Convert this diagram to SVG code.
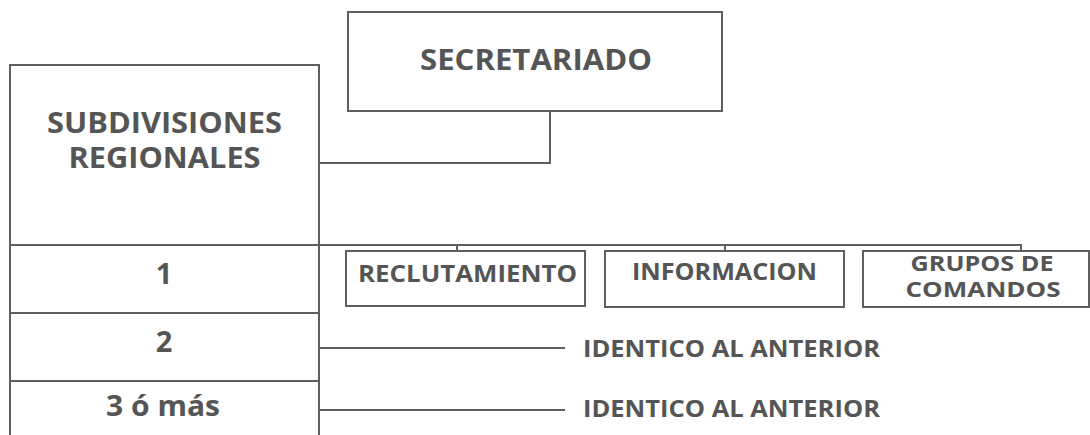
<svg xmlns="http://www.w3.org/2000/svg" width="1090" height="435" viewBox="0 0 1090 435">
<style>
.box{fill:#fff;stroke:#5f5f5f;stroke-width:2}
.ln{fill:none;stroke:#5f5f5f;stroke-width:2}
text{font-family:"Open Sans","Noto Sans",sans-serif;font-weight:700;fill:#555;text-anchor:middle}
.big{font-size:28px}
.mid{font-size:29px}
.sm{font-size:24px}
.gr{font-size:21px}
</style>
<rect width="1090" height="435" fill="#fff"/>
<g id="connectors">
<path class="ln" d="M319 163 H550 V111"/>
<path class="ln" d="M319 245 H1021 V251 M457 245 V251 M725 245 V251"/>
<path class="ln" d="M319 348 H565 M319 410 H565"/>
</g>
<g id="secretariado">
<rect class="box" x="348" y="12" width="374" height="99"/>
<text class="big" x="536" y="70" textLength="232" lengthAdjust="spacingAndGlyphs">SECRETARIADO</text>
</g>
<g id="subdivisiones">
<path class="ln" d="M10 437 V65 H319 V437"/>
<text class="big" x="164.5" y="133" textLength="235" lengthAdjust="spacingAndGlyphs">SUBDIVISIONES</text>
<text class="big" x="164.5" y="168" textLength="192" lengthAdjust="spacingAndGlyphs">REGIONALES</text>
</g>
<g id="row1">
<path class="ln" d="M10 245 H319"/>
<text class="mid" x="164" y="284">1</text>
</g>
<g id="row2">
<path class="ln" d="M10 313 H319"/>
<text class="mid" x="164" y="352">2</text>
</g>
<g id="row3">
<path class="ln" d="M10 381 H319"/>
<text class="mid" x="163" y="416" textLength="114" lengthAdjust="spacingAndGlyphs">3 ó más</text>
</g>
<g id="reclutamiento">
<rect class="box" x="346" y="251" width="239" height="55"/>
<text class="sm" x="467.5" y="282" textLength="219" lengthAdjust="spacingAndGlyphs">RECLUTAMIENTO</text>
</g>
<g id="informacion">
<rect class="box" x="605" y="251" width="239" height="56"/>
<text class="sm" x="724.5" y="280" textLength="185" lengthAdjust="spacingAndGlyphs">INFORMACION</text>
</g>
<g id="grupos">
<rect class="box" x="863" y="251" width="226" height="56"/>
<text class="gr" x="982" y="271" textLength="143" lengthAdjust="spacingAndGlyphs">GRUPOS DE</text>
<text class="gr" x="983" y="297" textLength="155" lengthAdjust="spacingAndGlyphs">COMANDOS</text>
</g>
<g id="identico2">
<text class="sm" x="731.5" y="357" textLength="297" lengthAdjust="spacingAndGlyphs">IDENTICO AL ANTERIOR</text>
</g>
<g id="identico3">
<text class="sm" x="731.5" y="417" textLength="297" lengthAdjust="spacingAndGlyphs">IDENTICO AL ANTERIOR</text>
</g>
</svg>
